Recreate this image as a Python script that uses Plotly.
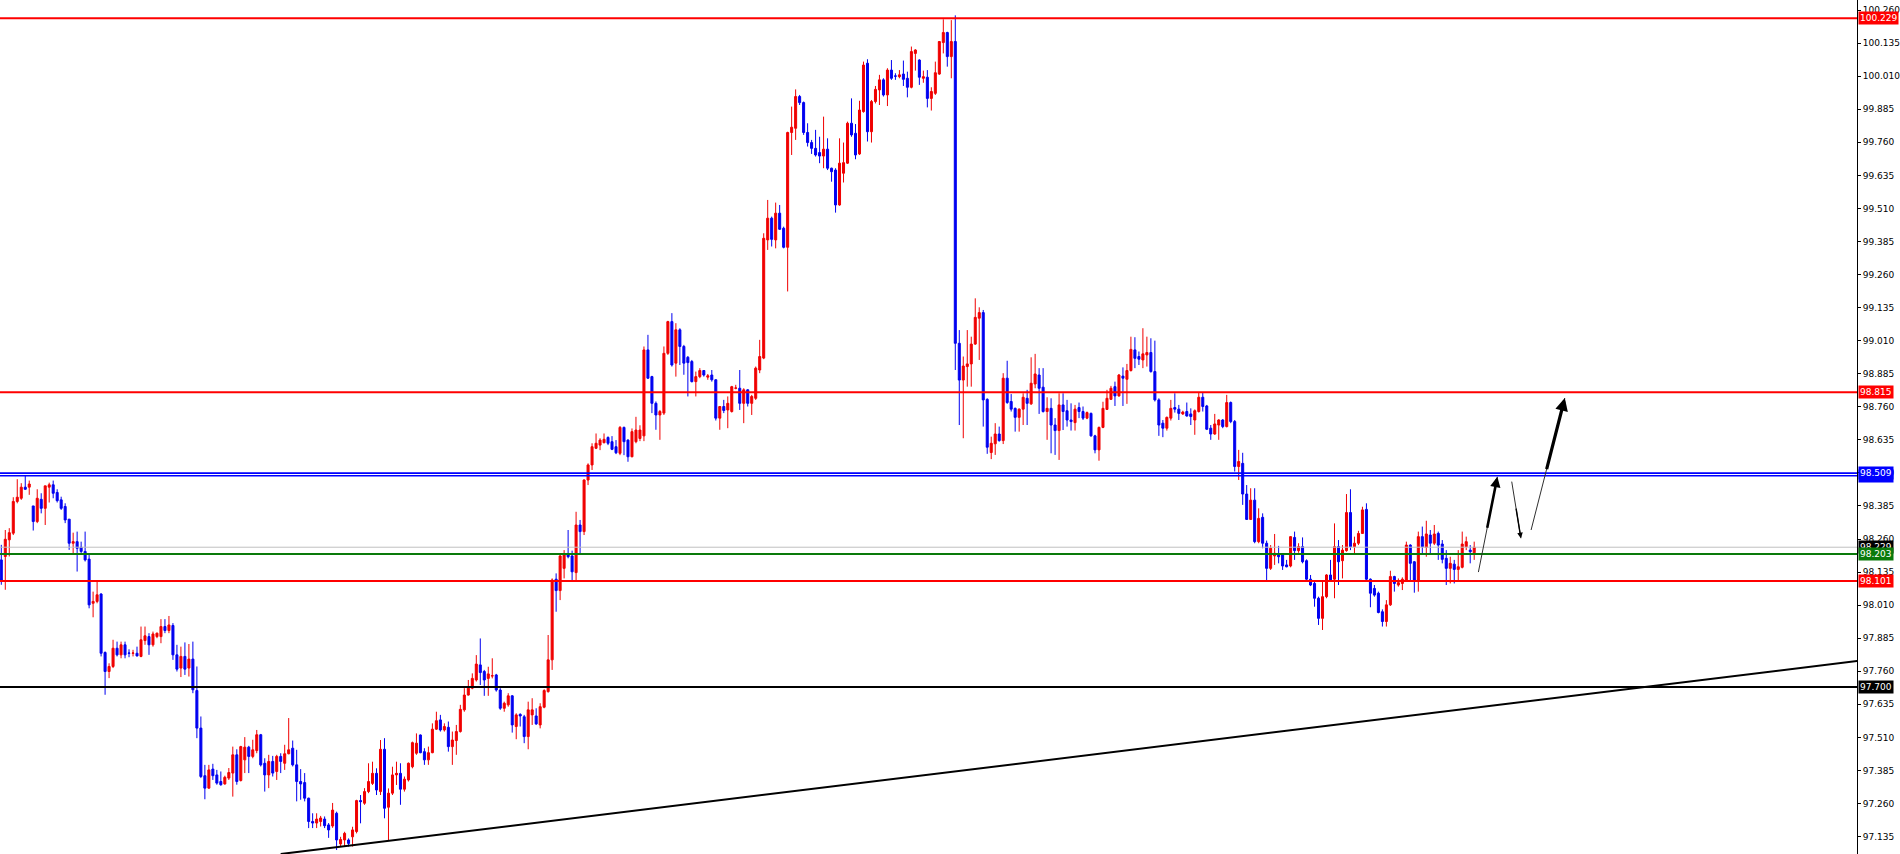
import plotly.graph_objects as go

# ---------------- data ----------------
opens = [
98.181,98.194,98.257,98.282,98.402,98.414,98.456,98.456,98.385,98.326,
98.410,98.376,98.456,98.465,98.436,98.408,98.383,98.335,98.244,98.250,
98.229,98.213,98.184,98.017,98.024,98.052,97.831,97.759,97.778,97.847,
97.822,97.860,97.829,97.828,97.828,97.816,97.876,97.891,97.860,97.891,
97.891,97.929,97.914,97.933,97.822,97.772,97.816,97.772,97.806,97.687,
97.545,97.365,97.318,97.390,97.368,97.343,97.334,97.356,97.375,97.444,
97.347,97.425,97.473,97.438,97.460,97.520,97.412,97.368,97.419,97.381,
97.438,97.412,97.448,97.469,97.406,97.343,97.339,97.280,97.192,97.186,
97.192,97.201,97.179,97.175,97.223,97.107,97.122,97.122,97.134,97.154,
97.271,97.261,97.305,97.336,97.374,97.305,97.465,97.246,97.299,97.368,
97.374,97.314,97.349,97.399,97.450,97.519,97.456,97.425,97.452,97.541,
97.576,97.538,97.548,97.475,97.498,97.532,97.614,97.670,97.696,97.727,
97.784,97.759,97.733,97.742,97.746,97.689,97.620,97.633,97.667,97.551,
97.597,97.588,97.513,97.595,97.591,97.557,97.624,97.683,97.803,98.108,
98.065,98.149,98.200,98.196,98.133,98.313,98.288,98.483,98.540,98.603,
98.615,98.624,98.644,98.628,98.609,98.584,98.682,98.634,98.571,98.628,
98.640,98.650,98.975,98.874,98.773,98.729,98.736,98.962,99.082,98.925,
99.051,98.988,98.947,98.931,98.855,98.874,98.897,98.872,98.880,98.862,
98.717,98.761,98.748,98.742,98.830,98.830,98.773,98.824,98.773,98.792,
98.899,98.944,99.391,99.473,99.391,99.492,99.435,99.363,99.797,99.813,
99.933,99.910,99.797,99.759,99.737,99.721,99.708,99.734,99.662,99.655,
99.523,99.643,99.681,99.832,99.794,99.716,99.876,100.059,99.800,99.914,
99.958,99.996,99.939,100.033,100.011,100.008,100.018,100.002,99.968,100.096,
100.071,100.002,100.006,99.926,99.945,100.018,100.137,100.175,100.084,100.141,
99.000,98.861,98.912,98.922,98.997,99.095,99.116,98.788,98.587,98.620,
98.657,98.632,98.868,98.780,98.754,98.720,98.751,98.792,98.771,98.846,
98.880,98.834,98.742,98.754,98.691,98.670,98.767,98.745,98.710,98.700,
98.757,98.742,98.717,98.735,98.650,98.597,98.682,98.750,98.788,98.836,
98.801,98.876,98.864,98.897,98.975,98.950,98.937,98.956,98.965,98.893,
98.786,98.698,98.679,98.717,98.757,98.751,98.733,98.742,98.733,98.710,
98.742,98.796,98.763,98.679,98.657,98.691,98.710,98.685,98.776,98.704,
98.534,98.546,98.430,98.334,98.407,98.250,98.342,98.244,98.149,98.196,
98.200,98.203,98.162,98.158,98.266,98.216,98.231,98.178,98.108,98.092,
98.036,97.960,98.042,98.124,98.108,98.231,98.178,98.216,98.360,98.231,
98.244,98.281,98.372,98.108,98.073,98.055,97.985,97.948,98.011,98.118,
98.086,98.092,98.102,98.237,98.174,98.105,98.269,98.228,98.275,98.244,
98.281,98.241,98.187,98.149,98.165,98.145,98.153,98.231,98.218,98.208,
]
highs = [
98.238,98.294,98.301,98.418,98.486,98.471,98.499,98.481,98.385,98.448,
98.433,98.461,98.473,98.481,98.448,98.420,98.395,98.335,98.284,98.288,
98.250,98.288,98.200,98.061,98.099,98.055,97.835,97.790,97.879,97.872,
97.872,97.872,97.843,97.841,97.853,97.929,97.929,97.904,97.910,97.906,
97.957,97.957,97.969,97.942,97.860,97.853,97.869,97.863,97.872,97.778,
97.589,97.406,97.406,97.410,97.387,97.381,97.365,97.394,97.475,97.465,
97.478,97.511,97.478,97.501,97.538,97.523,97.431,97.444,97.440,97.444,
97.450,97.482,97.583,97.498,97.463,97.390,97.375,97.282,97.223,97.223,
97.213,97.211,97.186,97.262,97.229,97.134,97.153,97.128,97.172,97.274,
97.292,97.318,97.412,97.418,97.393,97.500,97.507,97.317,97.399,97.418,
97.412,97.362,97.415,97.494,97.525,97.521,97.469,97.475,97.563,97.607,
97.595,97.563,97.570,97.532,97.557,97.633,97.696,97.727,97.752,97.821,
97.884,97.765,97.777,97.809,97.750,97.696,97.645,97.677,97.670,97.601,
97.601,97.595,97.645,97.658,97.620,97.639,97.692,97.897,98.111,98.130,
98.200,98.218,98.294,98.216,98.363,98.332,98.486,98.546,98.622,98.659,
98.641,98.659,98.648,98.649,98.634,98.687,98.685,98.637,98.678,98.722,
98.690,98.988,99.032,98.877,98.780,98.748,98.988,99.085,99.114,99.076,
99.057,98.994,98.952,98.937,98.893,98.906,98.899,98.884,98.899,98.864,
98.763,98.786,98.799,98.839,98.843,98.899,98.830,98.826,98.805,98.912,
99.013,99.416,99.542,99.479,99.532,99.523,99.441,99.800,99.895,99.960,
99.939,99.914,99.832,99.769,99.807,99.781,99.857,99.775,99.664,99.662,
99.775,99.759,99.838,99.926,99.829,99.917,100.065,100.074,99.920,99.973,
100.015,100.002,100.040,100.071,100.021,100.033,100.069,100.027,100.122,100.112,
100.074,100.031,100.033,99.968,100.065,100.143,100.225,100.178,100.222,100.240,
99.050,98.950,99.050,99.025,99.170,99.136,99.126,98.792,98.647,98.698,
98.685,98.887,98.934,98.808,98.757,98.754,98.811,98.824,98.947,98.960,
98.906,98.906,98.796,98.792,98.717,98.811,98.811,98.786,98.773,98.767,
98.776,98.761,98.742,98.738,98.654,98.685,98.779,98.824,98.839,98.855,
98.884,98.909,98.922,99.025,99.023,98.969,99.057,99.025,99.019,99.010,
98.792,98.710,98.723,98.786,98.811,98.767,98.745,98.776,98.754,98.750,
98.814,98.814,98.767,98.691,98.733,98.713,98.713,98.805,98.780,98.710,
98.597,98.586,98.464,98.452,98.452,98.376,98.357,98.254,98.237,98.279,
98.234,98.206,98.181,98.271,98.288,98.244,98.266,98.183,98.124,98.099,
98.042,98.099,98.127,98.181,98.319,98.256,98.237,98.430,98.448,98.269,
98.291,98.382,98.395,98.111,98.086,98.061,97.994,98.029,98.140,98.121,
98.111,98.115,98.250,98.240,98.177,98.288,98.307,98.329,98.294,98.313,
98.288,98.256,98.218,98.193,98.181,98.218,98.288,98.269,98.237,98.250,
]
lows = [
98.087,98.068,98.194,98.275,98.395,98.408,98.446,98.427,98.292,98.320,
98.357,98.313,98.398,98.414,98.398,98.370,98.320,98.219,98.200,98.137,
98.200,98.175,97.998,97.964,98.017,97.816,97.671,97.734,97.772,97.816,
97.809,97.809,97.813,97.816,97.816,97.813,97.860,97.822,97.853,97.885,
97.866,97.904,97.904,97.803,97.759,97.738,97.746,97.740,97.677,97.507,
97.356,97.276,97.316,97.349,97.331,97.327,97.331,97.349,97.286,97.331,
97.343,97.375,97.375,97.431,97.450,97.400,97.305,97.318,97.362,97.349,
97.375,97.387,97.446,97.400,97.268,97.274,97.268,97.167,97.167,97.167,
97.173,97.167,97.130,97.168,97.084,97.097,97.097,97.097,97.097,97.147,
97.185,97.255,97.299,97.330,97.292,97.292,97.204,97.122,97.292,97.330,
97.255,97.305,97.343,97.393,97.444,97.450,97.406,97.406,97.450,97.538,
97.532,97.532,97.456,97.406,97.444,97.528,97.607,97.668,97.692,97.721,
97.708,97.667,97.667,97.733,97.683,97.614,97.607,97.626,97.528,97.503,
97.551,97.488,97.465,97.557,97.557,97.544,97.620,97.679,97.765,97.985,
98.029,98.111,98.187,98.105,98.105,98.206,98.275,98.464,98.521,98.600,
98.596,98.622,98.615,98.596,98.581,98.577,98.577,98.552,98.569,98.622,
98.630,98.630,98.865,98.736,98.673,98.635,98.729,98.956,98.912,98.874,
98.918,98.881,98.799,98.852,98.799,98.868,98.874,98.862,98.855,98.708,
98.673,98.736,98.679,98.738,98.826,98.748,98.698,98.761,98.729,98.786,
98.887,98.940,99.353,99.366,99.359,99.429,99.359,99.196,99.712,99.769,
99.901,99.788,99.744,99.716,99.706,99.681,99.662,99.655,99.611,99.494,
99.520,99.608,99.678,99.781,99.696,99.712,99.872,99.763,99.759,99.907,
99.901,99.933,99.897,99.996,99.996,100.002,99.973,99.930,99.964,100.031,
99.977,99.985,99.892,99.880,99.939,100.015,100.096,100.046,100.002,98.899,
98.691,98.641,98.836,98.836,98.994,98.937,98.685,98.582,98.562,98.578,
98.628,98.619,98.771,98.742,98.666,98.666,98.691,98.691,98.767,98.830,
98.733,98.738,98.635,98.584,98.578,98.559,98.672,98.685,98.670,98.670,
98.717,98.710,98.713,98.647,98.584,98.556,98.679,98.748,98.786,98.763,
98.798,98.763,98.771,98.893,98.906,98.918,98.906,98.912,98.889,98.780,
98.650,98.645,98.670,98.708,98.738,98.710,98.729,98.723,98.691,98.654,
98.738,98.742,98.672,98.635,98.654,98.635,98.679,98.682,98.698,98.515,
98.483,98.389,98.332,98.332,98.244,98.244,98.225,98.105,98.143,98.162,
98.168,98.143,98.153,98.153,98.181,98.208,98.168,98.099,98.082,98.004,
97.935,97.916,98.036,98.102,98.036,98.086,98.111,98.212,98.218,98.200,
98.237,98.279,98.099,98.002,98.042,97.979,97.929,97.929,98.007,98.061,
98.080,98.067,98.099,98.099,98.057,98.061,98.203,98.193,98.200,98.237,
98.181,98.168,98.086,98.092,98.092,98.105,98.149,98.218,98.168,98.181,
]
closes = [
98.105,98.259,98.284,98.402,98.418,98.456,98.448,98.468,98.326,98.414,
98.376,98.461,98.465,98.433,98.405,98.376,98.332,98.244,98.250,98.225,
98.213,98.181,98.011,98.024,98.049,97.828,97.759,97.778,97.847,97.822,
97.860,97.822,97.828,97.829,97.818,97.879,97.894,97.860,97.901,97.904,
97.929,97.914,97.935,97.822,97.768,97.816,97.768,97.806,97.690,97.545,
97.362,97.318,97.387,97.365,97.337,97.331,97.359,97.377,97.444,97.343,
97.475,97.473,97.438,97.463,97.520,97.406,97.368,97.419,97.375,97.438,
97.419,97.448,97.463,97.406,97.343,97.334,97.280,97.192,97.186,97.201,
97.205,97.176,97.160,97.235,97.122,97.124,97.147,97.109,97.160,97.271,
97.267,97.305,97.343,97.374,97.311,97.465,97.242,97.299,97.368,97.374,
97.314,97.352,97.412,97.490,97.488,97.452,97.425,97.452,97.541,97.573,
97.538,97.551,97.475,97.500,97.532,97.616,97.670,97.696,97.733,97.787,
97.755,97.727,97.750,97.743,97.689,97.620,97.639,97.667,97.557,97.595,
97.591,97.513,97.614,97.614,97.561,97.626,97.687,97.803,98.105,98.065,
98.196,98.200,98.193,98.136,98.313,98.288,98.483,98.540,98.609,98.622,
98.634,98.637,98.622,98.599,98.586,98.682,98.628,98.571,98.666,98.672,
98.672,98.975,98.868,98.773,98.729,98.742,98.962,99.082,98.918,99.051,
98.988,98.925,98.927,98.855,98.874,98.897,98.880,98.877,98.862,98.717,
98.761,98.746,98.773,98.836,98.831,98.773,98.824,98.773,98.799,98.906,
98.950,99.397,99.473,99.393,99.492,99.431,99.363,99.797,99.817,99.933,
99.910,99.797,99.759,99.737,99.712,99.708,99.734,99.662,99.649,99.523,
99.681,99.683,99.832,99.788,99.712,99.882,100.052,99.800,99.914,99.960,
99.996,99.939,100.033,100.002,100.010,100.015,99.998,99.968,100.103,100.109,
100.006,100.008,99.926,99.952,100.023,100.141,100.175,100.084,100.141,99.000,
98.861,98.914,98.922,98.997,99.098,99.116,98.786,98.607,98.622,98.657,
98.632,98.868,98.776,98.751,98.720,98.751,98.796,98.773,98.849,98.884,
98.830,98.742,98.754,98.691,98.670,98.767,98.742,98.710,98.704,98.751,
98.742,98.717,98.738,98.650,98.597,98.682,98.754,98.792,98.830,98.801,
98.880,98.868,98.897,98.977,98.943,98.940,98.960,98.965,98.893,98.786,
98.691,98.679,98.720,98.754,98.751,98.735,98.740,98.725,98.723,98.745,
98.796,98.761,98.675,98.657,98.695,98.710,98.685,98.776,98.704,98.534,
98.553,98.430,98.334,98.407,98.250,98.338,98.244,98.149,98.225,98.206,
98.193,98.158,98.155,98.269,98.216,98.231,98.174,98.108,98.086,98.036,
97.960,98.042,98.124,98.105,98.231,98.174,98.218,98.360,98.231,98.244,
98.281,98.370,98.108,98.055,98.048,97.982,97.948,98.011,98.118,98.092,
98.095,98.108,98.237,98.168,98.105,98.269,98.231,98.279,98.244,98.279,
98.237,98.183,98.149,98.168,98.145,98.155,98.241,98.250,98.212,98.229,
]
bar_index = list(range(len(closes)))

# right-axis price ticks
y_ticks = [97.135, 97.260, 97.385, 97.510, 97.635, 97.760, 97.885, 98.010,
           98.135, 98.260, 98.385, 98.510, 98.635, 98.760, 98.885, 99.010,
           99.135, 99.260, 99.385, 99.510, 99.635, 99.760, 99.885, 100.010,
           100.135, 100.260]

# horizontal levels: (price, colour, width)
level_prices = [100.229, 98.815, 98.509, 98.499, 98.229, 98.203, 98.101, 97.700]
level_colors = ["#ff0000", "#ff0000", "#0000ff", "#0000ff", "#c0c0c0",
                "#0a7a0a", "#ff0000", "#000000"]
level_widths = [2, 2, 1.6, 1.6, 1, 2, 2, 2]

# price labels on the axis (drawn in this order)
label_prices = [100.229, 98.815, 98.499, 98.509, 98.229, 98.203, 98.101, 97.700]
label_colors = ["#ff0000", "#ff0000", "#0000ff", "#0000ff", "#000000",
                "#0a7a0a", "#ff0000", "#000000"]

# trend line anchor points (bar index, price)
trend_x = [70, 465]
trend_y = [97.069, 97.799]

# hand-drawn arrows: (start bar, start price, end bar, end price, width)
arrows = [
    (370.05, 98.135, 374.8, 98.495, 2.6),
    (378.4, 98.477, 380.7, 98.263, 1.4),
    (383.25, 98.294, 391.7, 98.793, 3.2),
]

# ---------------- figure ----------------
RED = "#f00000"
BLUE = "#0000f0"

fig = go.Figure()
fig.add_trace(go.Candlestick(
    x=bar_index, open=opens, high=highs, low=lows, close=closes,
    increasing=dict(line=dict(color=RED, width=1), fillcolor=RED),
    decreasing=dict(line=dict(color=BLUE, width=1), fillcolor=BLUE),
    whiskerwidth=0, hoverinfo="skip", showlegend=False,
))

shapes = []
for p, c, w in zip(level_prices, level_colors, level_widths):
    shapes.append(dict(type="line", xref="paper", x0=0, x1=1, yref="y",
                       y0=p, y1=p, line=dict(color=c, width=w), layer="above"))
shapes.append(dict(type="line", xref="x", yref="y", x0=trend_x[0], y0=trend_y[0],
                   x1=trend_x[1], y1=trend_y[1],
                   line=dict(color="#000000", width=2), layer="above"))

annotations = []
for (xs, ys, xe, ye, w) in arrows:
    # thin tail over the whole length
    shapes.append(dict(type="line", xref="x", yref="y", x0=xs, y0=ys, x1=xe, y1=ye,
                       line=dict(color="#303030", width=1), layer="above"))
    # thicker head part
    xm = xs + (xe - xs) * 0.45
    ym = ys + (ye - ys) * 0.45
    annotations.append(dict(x=xe, y=ye, ax=xm, ay=ym, xref="x", yref="y",
                            axref="x", ayref="y", text="", showarrow=True,
                            arrowhead=2, arrowsize=0.8, arrowwidth=w,
                            arrowcolor="#000000", standoff=0))

for p, c in zip(label_prices, label_colors):
    annotations.append(dict(x=1, xref="paper", xanchor="left", xshift=1,
                            y=p, yref="y", yanchor="middle",
                            text=f"{p:.3f}", showarrow=False,
                            font=dict(family="DejaVu Sans", size=9, color="#ffffff"),
                            bgcolor=c, borderpad=1))

fig.update_layout(
    width=1900, height=854,
    margin=dict(l=0, r=39, t=0, b=0),
    paper_bgcolor="#ffffff", plot_bgcolor="#ffffff",
    showlegend=False, boxgap=0.28,
    shapes=shapes, annotations=annotations,
    xaxis=dict(range=[-0.325, 464.9], visible=False, showgrid=False,
               zeroline=False, rangeslider=dict(visible=False), fixedrange=True),
    yaxis=dict(side="right", range=[97.069, 100.298], tickvals=y_ticks,
               ticktext=[f"{v:.3f}" for v in y_ticks],
               showgrid=False, zeroline=False, showline=True,
               linecolor="#000000", linewidth=1, ticks="outside", ticklen=3,
               tickcolor="#000000", mirror=False,
               tickfont=dict(family="DejaVu Sans", size=9, color="#000000")),
)

fig.write_html("out.html", config={"displayModeBar": False},
               post_script="document.body.style.margin='0';document.body.style.overflow='hidden';")
